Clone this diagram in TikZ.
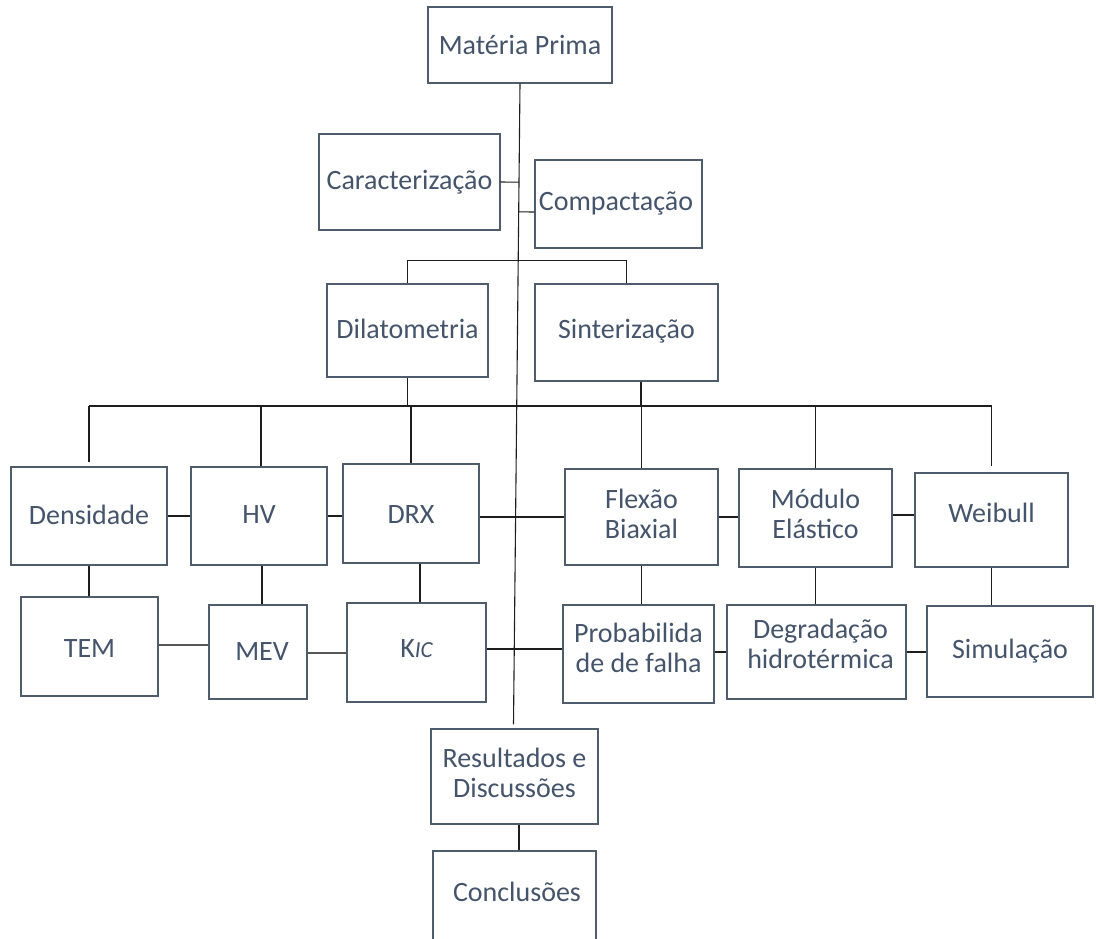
\documentclass[tikz,border=0pt]{standalone}
\usepackage{fontspec}
\setmainfont{Carlito}
\usetikzlibrary{calc}
\definecolor{txt}{HTML}{44546A}
\definecolor{bord}{HTML}{4F5C6C}
\definecolor{ln}{HTML}{1E1E1E}
\begin{document}
\begin{tikzpicture}[x=1pt,y=-1pt,
  box/.style={draw=bord, line width=1.3pt, fill=white, inner sep=0pt},
  lab/.style={text=txt, font=\fontsize{28}{30}\selectfont, align=center, inner sep=0pt},
  conn/.style={draw=ln, line width=1.1pt}]
\useasboundingbox (0,0) rectangle (1096,938);
\clip (0,0) rectangle (1096,938);
% boxes
\node[box, minimum width=184pt, minimum height=76pt, label={[lab]center:Matéria Prima}] (mp) at (520,45) {};
\node[box, minimum width=181pt, minimum height=96pt, label={[lab]center:Caracterização}] (car) at (409.5,182) {};
\node[box, minimum width=167pt, minimum height=88pt, label={[lab,yshift=1pt,xshift=-2.5pt]center:Compactação}] (cmp) at (618.5,204) {};
\node[box, minimum width=161pt, minimum height=93pt, label={[lab,yshift=1.5pt]center:Dilatometria}] (dil) at (407.5,330.5) {};
\node[box, minimum width=183pt, minimum height=97pt, label={[lab,yshift=1.5pt]center:Sinterização}] (sin) at (626.5,332.5) {};
\node[box, minimum width=156pt, minimum height=98pt, label={[lab,yshift=1pt]center:Densidade}] (den) at (89,516) {};
\node[box, minimum width=136pt, minimum height=98pt, label={[lab,yshift=1pt]center:HV}] (hv) at (259,516) {};
\node[box, minimum width=136pt, minimum height=99pt, label={[lab,yshift=-1.5pt]center:DRX}] (drx) at (411,513.5) {};
\node[box, minimum width=153pt, minimum height=96pt, label={[lab,yshift=3pt]center:{Flexão\\Biaxial}}] (fle) at (641.5,517) {};
\node[box, minimum width=153pt, minimum height=98pt, label={[lab,yshift=4pt]center:{Módulo\\Elástico}}] (mod) at (815.5,518) {};
\node[box, minimum width=153pt, minimum height=94pt, label={[lab,yshift=7pt]center:Weibull}] (wei) at (991.5,520) {};
\node[box, minimum width=137pt, minimum height=99pt, label={[lab,yshift=-2.5pt]center:TEM}] (tem) at (89.5,646.5) {};
\node[box, minimum width=98pt, minimum height=94pt, label={[lab,xshift=4pt]center:MEV}] (mev) at (258,652) {};
\node[box, minimum width=139pt, minimum height=99pt, label={[lab,yshift=3.5pt]center:{K{\fontsize{23}{23}\selectfont\itshape IC}}}] (kic) at (416.5,652.5) {};
\node[box, minimum width=151pt, minimum height=98pt, label={[lab,yshift=6pt]center:{Probabilida\\de de falha}}] (prob) at (638.5,654) {};
\node[box, minimum width=179pt, minimum height=94pt, label={[lab,yshift=8pt,xshift=4pt]center:{Degradação\\hidrotérmica}}] (deg) at (816.5,652) {};
\node[box, minimum width=166pt, minimum height=91pt, label={[lab]center:Simulação}] (sim) at (1010,651.5) {};
\node[box, minimum width=167pt, minimum height=95pt, label={[lab,yshift=3.5pt]center:{Resultados e\\Discussões}}] (rd) at (514.5,776.5) {};
\node[box, minimum width=163pt, minimum height=100pt, label={[lab,yshift=9pt,xshift=2.5pt]center:Conclusões}] (cc) at (514.5,901) {};
% main spine
\coordinate (mlend) at ([xshift=-1pt,yshift=4pt]rd.north);
\draw[conn] (mp.south) -- (mlend);
\draw[conn] (car.east) -- ($(mp.south)!(car.east)!(mlend)$);
\coordinate (cw) at ([yshift=-8pt]cmp.west);
\draw[conn] (cw) -- ($(mp.south)!(cw)!(mlend)$);
% branch to dilatometria / sinterizacao
\draw[conn] (dil.north) -- ++(0,-23) -| (sin.north);
% bus
\coordinate (bus) at (0,406);
\draw[conn] (den.north |- bus) -- (wei.north |- bus);
\draw[conn] (dil.south) -- (dil.south |- bus);
\coordinate (sinc) at ([xshift=14.5pt]sin.south);
\draw[conn] (sinc) -- (sinc |- bus);
\draw[conn] (den.north |- bus) -- ([yshift=4pt]den.north);
\coordinate (hvt) at ([xshift=2pt]hv.north);
\draw[conn] (hvt |- bus) -- (hvt);
\draw[conn] (drx.north |- bus) -- (drx.north);
\draw[conn] (fle.north |- bus) -- (fle.north);
\draw[conn] (mod.north |- bus) -- (mod.north);
\draw[conn] (wei.north |- bus) -- ([yshift=6pt]wei.north);
% row 1 horizontals
\draw[conn] (den.east) -- (den.east -| hv.west);
\draw[conn] (hv.east) -- (hv.east -| drx.west);
\draw[conn] (fle.west -| drx.east) -- (fle.west);
\draw[conn] (fle.east) -- (fle.east -| mod.west);
\draw[conn] ([yshift=3pt]mod.east) -- ([yshift=3pt]mod.east -| wei.west);
% row 1 to row 2
\draw[conn] (den.south) -- (den.south |- tem.north);
\coordinate (hvb) at ([xshift=3pt]hv.south);
\draw[conn] (hvb) -- (hvb |- mev.north);
\coordinate (drxb) at ([xshift=9pt]drx.south);
\draw[conn] (drxb) -- (drxb |- kic.north);
\draw[conn] (fle.south) -- (fle.south |- prob.north);
\draw[conn] (mod.south) -- (mod.south |- deg.north);
\draw[conn] (wei.south) -- (wei.south |- sim.north);
% row 2 horizontals
\draw[conn, draw=ln!75] ([yshift=1.5pt]tem.east) -- ([yshift=1.5pt]tem.east -| mev.west);
\draw[conn, draw=ln!75] ([yshift=-1pt]mev.east) -- ([yshift=-1pt]mev.east -| kic.west);
\coordinate (kr) at ([yshift=3.5pt]kic.east);
\draw[conn] (kr) -- (kr -| prob.west);
\draw[conn] ([yshift=2pt]prob.east) -- ([yshift=2pt]prob.east -| deg.west);
\draw[conn] (deg.east) -- (deg.east -| sim.west);
% results to conclusions
\coordinate (rdb) at ([xshift=4.5pt]rd.south);
\draw[conn] (rdb) -- (rdb |- cc.north);
\end{tikzpicture}
\end{document}
